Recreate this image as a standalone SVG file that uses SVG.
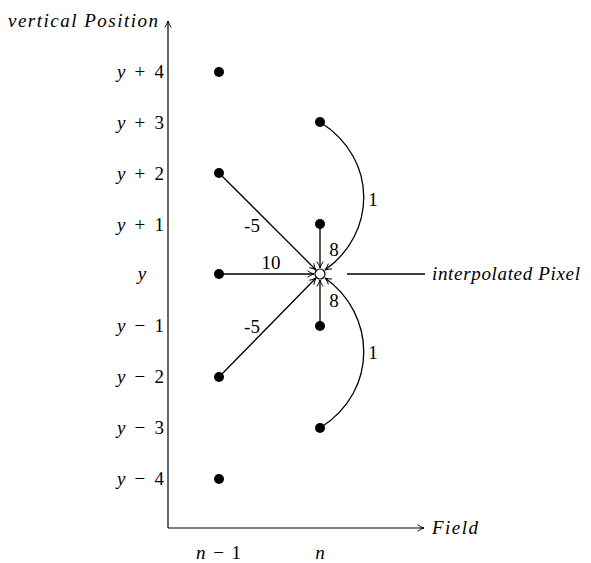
<svg xmlns="http://www.w3.org/2000/svg" width="591" height="563" viewBox="0 0 591 563">
<style>
text{font-family:"Liberation Serif","DejaVu Serif",serif;font-size:19px;fill:#000}
.it{font-style:italic}
.ax{stroke:#000;stroke-width:1.2;fill:none}
.c{stroke:#000;stroke-width:1.3;fill:none}
.dot{fill:#000}
</style>
<defs>
<marker id="ar" viewBox="0 0 10 10" refX="9" refY="5" markerWidth="8" markerHeight="8" markerUnits="userSpaceOnUse" orient="auto">
<path d="M1,1 Q5,4 9,5 Q5,6 1,9" fill="none" stroke="#000" stroke-width="1.2"/>
</marker>
</defs>
<g id="axes">
<line class="ax" x1="168" y1="528" x2="168" y2="21" marker-end="url(#ar)"/>
<line class="ax" x1="168" y1="528" x2="424" y2="528" marker-end="url(#ar)"/>
<text class="it" x="8" y="27" textLength="150" lengthAdjust="spacing">vertical Position</text>
<text class="it" x="432" y="534" textLength="46" lengthAdjust="spacing">Field</text>
</g>
<g id="ylabels">
<text x="117" y="78" textLength="47" lengthAdjust="spacing"><tspan class="it">y</tspan> + 4</text>
<text x="117" y="129" textLength="47" lengthAdjust="spacing"><tspan class="it">y</tspan> + 3</text>
<text x="117" y="180" textLength="47" lengthAdjust="spacing"><tspan class="it">y</tspan> + 2</text>
<text x="117" y="231" textLength="47" lengthAdjust="spacing"><tspan class="it">y</tspan> + 1</text>
<text x="142" y="280" text-anchor="middle" class="it">y</text>
<text x="117" y="332" textLength="47" lengthAdjust="spacing"><tspan class="it">y</tspan> − 1</text>
<text x="117" y="383" textLength="47" lengthAdjust="spacing"><tspan class="it">y</tspan> − 2</text>
<text x="117" y="434" textLength="47" lengthAdjust="spacing"><tspan class="it">y</tspan> − 3</text>
<text x="117" y="485" textLength="47" lengthAdjust="spacing"><tspan class="it">y</tspan> − 4</text>
</g>
<g id="xlabels">
<text x="196" y="559" textLength="45" lengthAdjust="spacing"><tspan class="it">n</tspan> − 1</text>
<text x="320" y="559" text-anchor="middle" class="it">n</text>
</g>
<g id="connectors">
<line class="c" x1="219" y1="173" x2="316" y2="270" marker-end="url(#ar)"/>
<line class="c" x1="219" y1="274" x2="314" y2="274" marker-end="url(#ar)"/>
<line class="c" x1="219" y1="377" x2="316" y2="278" marker-end="url(#ar)"/>
<line class="c" x1="320" y1="224" x2="320" y2="268" marker-end="url(#ar)"/>
<line class="c" x1="320" y1="326" x2="320" y2="280" marker-end="url(#ar)"/>
<path class="c" d="M320,122 C380,160 375,235 325,270" marker-end="url(#ar)"/>
<path class="c" d="M320,428 C380,390 375,313 325,278" marker-end="url(#ar)"/>
<line class="c" x1="347" y1="274" x2="425" y2="274"/>
<text x="252" y="232" text-anchor="middle">-5</text>
<text x="271" y="269" text-anchor="middle">10</text>
<text x="252" y="333" text-anchor="middle">-5</text>
<text x="334" y="256" text-anchor="middle">8</text>
<text x="334" y="307" text-anchor="middle">8</text>
<text x="373" y="206" text-anchor="middle">1</text>
<text x="373" y="359" text-anchor="middle">1</text>
<text class="it" x="432" y="280" textLength="148" lengthAdjust="spacing">interpolated Pixel</text>
</g>
<g id="n1_4"><circle class="dot" cx="219" cy="72" r="5"/></g>
<g id="n1_2"><circle class="dot" cx="219" cy="173" r="5"/></g>
<g id="n1_0"><circle class="dot" cx="219" cy="274" r="5"/></g>
<g id="n1_m2"><circle class="dot" cx="219" cy="377" r="5"/></g>
<g id="n1_m4"><circle class="dot" cx="219" cy="479" r="5"/></g>
<g id="n_3"><circle class="dot" cx="320" cy="122" r="5"/></g>
<g id="n_1"><circle class="dot" cx="320" cy="224" r="5"/></g>
<g id="n_m1"><circle class="dot" cx="320" cy="326" r="5"/></g>
<g id="n_m3"><circle class="dot" cx="320" cy="428" r="5"/></g>
<g id="interp"><circle cx="320" cy="274" r="5" fill="#fff" stroke="#000" stroke-width="1.2"/></g>
</svg>
